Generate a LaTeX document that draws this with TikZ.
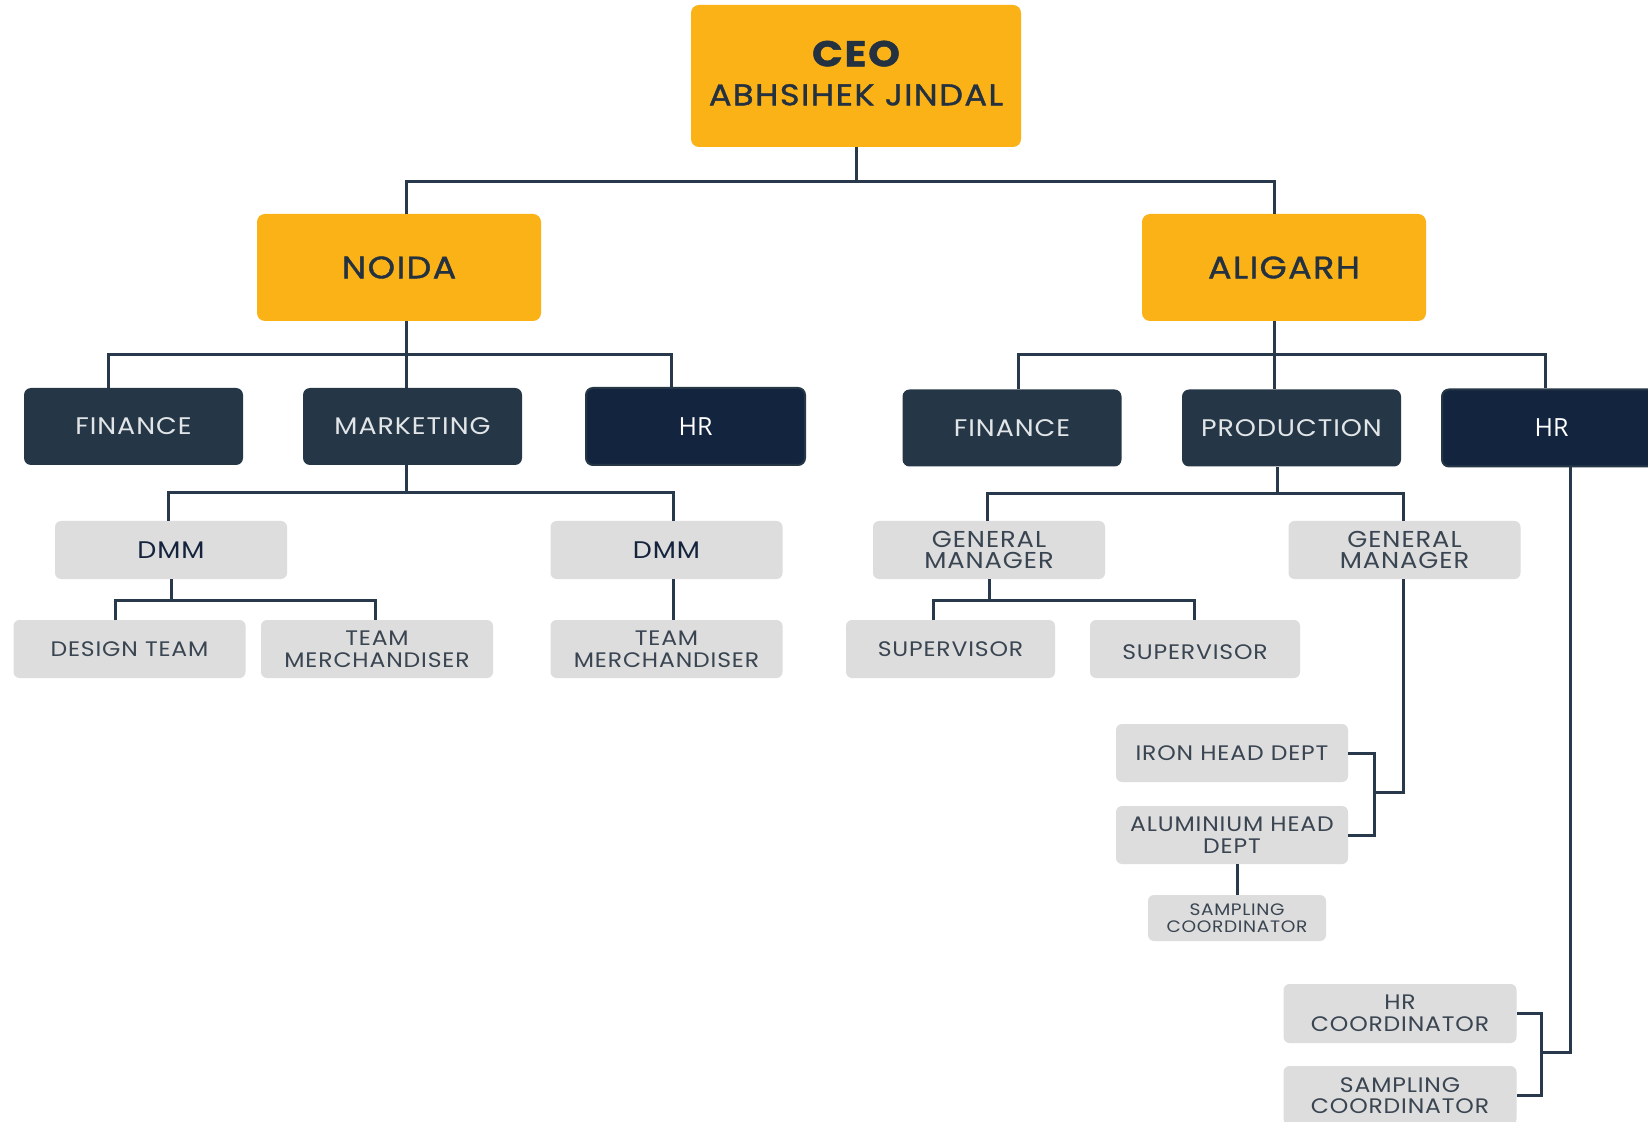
\documentclass[tikz,border=0pt]{standalone}
\usepackage{fontspec}
\setmainfont{Poppins}[FakeStretch=1.12,LetterSpace=4]
\newfontfamily\semib{Poppins}[FakeStretch=1.12,LetterSpace=5,FakeBold=1.3]
\newfontfamily\hrfont{Open Sans}
\usetikzlibrary{calc}
\definecolor{gold}{HTML}{FBB217}
\definecolor{goldtxt}{HTML}{233140}
\definecolor{slate}{HTML}{253746}
\definecolor{navy}{HTML}{13243F}
\definecolor{lighttxt}{HTML}{E2E5E8}
\definecolor{lgray}{HTML}{DDDDDD}
\definecolor{graytxt}{HTML}{3A4552}
\definecolor{dmmtxt}{HTML}{15233D}
\definecolor{linec}{HTML}{27394A}
\begin{document}
\begin{tikzpicture}[x=0.5pt,y=-0.5pt,
  conn/.style={draw=linec, line width=1.5pt},
  goldbox/.style={rectangle, rounded corners=4pt, fill=gold, text=goldtxt, inner sep=0pt, align=center},
  darkbox/.style={rectangle, rounded corners=3.5pt, fill=slate, text=lighttxt, minimum width=109.5pt, minimum height=38.5pt, inner sep=0pt, font=\fontsize{12}{14}\selectfont},
  navybox/.style={rectangle, rounded corners=3.5pt, fill=navy, draw=slate, line width=1pt, text=white, minimum width=109.5pt, minimum height=38.5pt, inner sep=0pt, font=\hrfont\fontsize{12.5}{14}\selectfont},
  graybox/.style={rectangle, rounded corners=3pt, fill=lgray, text=graytxt, minimum width=116pt, minimum height=29pt, inner sep=0pt, align=center, font=\fontsize{10.5}{10.8}\selectfont}
]
\fill[white] (0,0) rectangle (1648,1122);
\useasboundingbox (0,0) rectangle (1648,1122);

% top
\node[goldbox, minimum width=165pt, minimum height=71pt, font=\semib\fontsize{15}{19.5}\selectfont] (ceo) at (856,76)
  {{\fontsize{18}{19.5}\selectfont\bfseries CEO}\\ABHSIHEK JINDAL\rule[-3pt]{0pt}{0pt}};
\node[goldbox, minimum width=142pt, minimum height=53.5pt, font=\semib\fontsize{15.5}{18}\selectfont] (noida) at (399,267.5) {NOIDA};
\node[goldbox, minimum width=142pt, minimum height=53.5pt, font=\semib\fontsize{15.5}{18}\selectfont] (aligarh) at (1284,267.5) {ALIGARH};

% noida level
\node[darkbox] (nfin) at (133.5,426.5) {FINANCE};
\node[darkbox] (nmkt) at (412.5,426.5) {MARKETING};
\node[navybox] (nhr) at (695.5,426.5) {HR};
% aligarh level
\node[darkbox] (afin) at (1012,428) {FINANCE};
\node[darkbox] (aprod) at (1291.5,428) {PRODUCTION};
\node[navybox] (ahr) at (1551.5,428) {HR};

% gray boxes
\node[graybox, text=dmmtxt, font=\fontsize{12}{13}\selectfont] (dmma) at (171,550) {DMM};
\node[graybox, text=dmmtxt, font=\fontsize{12}{13}\selectfont] (dmmb) at (666.5,550) {DMM};
\node[graybox] (design) at (129.5,649) {DESIGN TEAM};
\node[graybox] (tma) at (377,649) {TEAM\\MERCHANDISER};
\node[graybox] (tmb) at (666.5,649) {TEAM\\MERCHANDISER};
\node[graybox, font=\fontsize{11.5}{10.8}\selectfont] (gma) at (989,550) {GENERAL\\MANAGER};
\node[graybox, font=\fontsize{11.5}{10.8}\selectfont] (gmb) at (1404.5,550) {GENERAL\\MANAGER};
\node[graybox, minimum width=104.5pt] (supa) at (950.5,649) {SUPERVISOR};
\node[graybox, minimum width=105pt] (supb) at (1195,649) {\rule{0pt}{10.5pt}SUPERVISOR};
\node[graybox] (iron) at (1232,753) {IRON HEAD DEPT};
\node[graybox] (alum) at (1232,835) {ALUMINIUM HEAD\\DEPT};
\node[graybox, minimum width=89pt, minimum height=23pt, font=\fontsize{8.3}{8.6}\selectfont] (sampa) at (1237,918) {SAMPLING\\COORDINATOR};
\node[graybox, minimum width=116.5pt, minimum height=29.5pt] (hrc) at (1400,1013.5) {HR\\COORDINATOR};
\node[graybox, minimum width=116.5pt, minimum height=29.5pt] (sampb) at (1400,1095.5) {SAMPLING\\COORDINATOR};

% connectors: CEO
\coordinate (c0l) at (406,182);
\coordinate (c0r) at (1274,182);
\draw[conn] (ceo.south) -- (ceo.south |- c0l);
\draw[conn] (noida.north -| c0l) -- (c0l) -- (c0r) -- (aligarh.north -| c0r);

% Noida
\coordinate (n1l) at (108,355);
\coordinate (n1m) at (406,355);
\coordinate (n1r) at (671,355);
\draw[conn] (noida.south -| n1m) -- (nmkt.north -| n1m);
\draw[conn] (nfin.north -| n1l) -- (n1l) -- (n1r) -- (nhr.north -| n1r);

% Aligarh
\coordinate (a1l) at (1018,355);
\coordinate (a1m) at (1274,355);
\coordinate (a1r) at (1545,355);
\draw[conn] (aligarh.south -| a1m) -- (aprod.north -| a1m);
\draw[conn] (afin.north -| a1l) -- (a1l) -- (a1r) -- (ahr.north -| a1r);

% Marketing
\coordinate (m1l) at (168,493);
\coordinate (m1m) at (406,493);
\coordinate (m1r) at (673,493);
\draw[conn] (nmkt.south -| m1m) -- (m1m);
\draw[conn] (dmma.north -| m1l) -- (m1l) -- (m1r) -- (dmmb.north -| m1r);

% DMM
\coordinate (d1l) at (115,600);
\coordinate (d1m) at (171,600);
\coordinate (d1r) at (375,600);
\draw[conn] (dmma.south -| d1m) -- (d1m);
\draw[conn] (design.north -| d1l) -- (d1l) -- (d1r) -- (tma.north -| d1r);
\draw[conn] (dmmb.south -| m1r) -- (tmb.north -| m1r);

% Production
\coordinate (p1l) at (987,494);
\coordinate (p1m) at (1277,494);
\coordinate (p1r) at (1403,494);
\draw[conn] (aprod.south -| p1m) -- (p1m);
\draw[conn] (gma.north -| p1l) -- (p1l) -- (p1r) -- (gmb.north -| p1r);

% GM left
\coordinate (g1l) at (933,600);
\coordinate (g1m) at (989,600);
\coordinate (g1r) at (1194,600);
\draw[conn] (gma.south -| g1m) -- (g1m);
\draw[conn] (supa.north -| g1l) -- (g1l) -- (g1r) -- (supb.north -| g1r);

% GM right
\coordinate (g2) at (1403,792);
\coordinate (g2b) at (1374,792);
\draw[conn] (gmb.south -| g2) -- (g2) -- (g2b);
\draw[conn] (iron.east) -- (iron.east -| g2b) -- (alum.east -| g2b) -- (alum.east);
\draw[conn] (sampa.north |- alum.south) -- (sampa.north);

% HR right
\coordinate (h1) at (1570,1052);
\coordinate (h1b) at (1541,1052);
\draw[conn] (ahr.south -| h1) -- (h1) -- (h1b);
\draw[conn] (hrc.east) -- (hrc.east -| h1b) -- (sampb.east -| h1b) -- (sampb.east);
\end{tikzpicture}
\end{document}
